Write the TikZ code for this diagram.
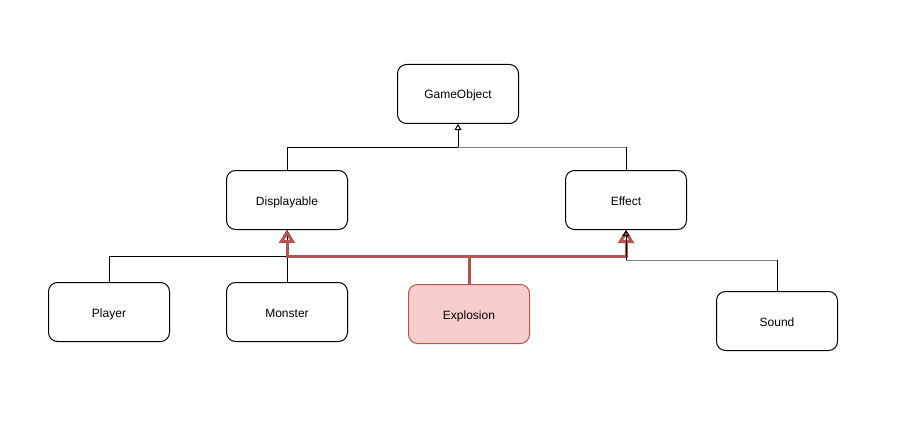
\documentclass[tikz,border=0pt]{standalone}
\usepackage{fontspec}
\setmainfont{Liberation Sans}
\usetikzlibrary{arrows.meta}
\definecolor{rd}{HTML}{B85450}
\definecolor{rdfill}{HTML}{F8CECC}
\definecolor{lgray}{HTML}{808080}
\begin{document}
\begin{tikzpicture}[x=1pt,y=-1pt,
  box/.style={draw, rounded corners=9pt, line width=1pt, minimum width=121pt, minimum height=59pt, font=\fontsize{12}{14}\selectfont, inner sep=0pt, text height=10pt, text depth=0pt},
  hot/.style={box, draw=rd, fill=rdfill},
  wire/.style={line width=1pt, line join=miter},
  inh/.style={wire, -{Triangle[open, length=6pt, width=7pt]}},
  hotinh/.style={line width=3pt, draw=rd, line join=miter, -{Triangle[open, length=13pt, width=16pt]}}]
\useasboundingbox (0,0) rectangle (922,428);
\node[box] (GameObject) at (458,94) {GameObject};
\node[box] (Displayable) at (287,200) {Displayable};
\node[box] (Effect) at (626,200) {Effect};
\node[box] (Player) at (109,312) {Player};
\node[box] (Monster) at (287,312) {Monster};
\node[hot] (Explosion) at (469,314) {Explosion};
\node[box] (Sound) at (777,321) {Sound};
\coordinate (go1) at (458,147);
\coordinate (e1) at (626,147);
\coordinate (d1) at (287,256);
\coordinate (x1) at (469,256);
\coordinate (s1) at (777,260);
\coordinate (s2) at (626,260);
% to GameObject
\draw[inh] (Displayable.north) |- (go1) -- (GameObject.south);
\draw[wire] (Effect.north) -- (e1);
\draw[wire, lgray] (e1) -- (go1);
% to Displayable
\draw[inh] (Player.north) |- (d1) -- (Displayable.south);
\draw[inh] (Monster.north) -- (Displayable.south);
% Explosion
\draw[hotinh] (Explosion.north) -- (x1) -| (Displayable.south);
\draw[hotinh] (x1) -| (Effect.south);
% Sound
\draw[wire] (Sound.north) -- (s1);
\draw[wire, lgray] (s1) -- (s2);
\draw[inh] (s2) -- (Effect.south);
\end{tikzpicture}
\end{document}
